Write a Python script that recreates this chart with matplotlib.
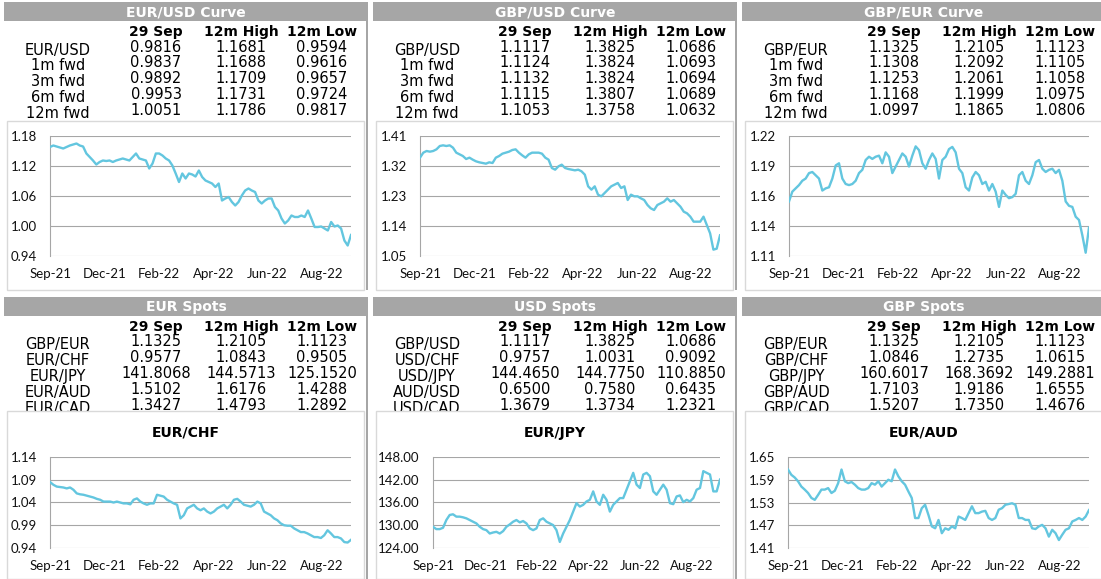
import numpy as np
import matplotlib
matplotlib.use('Agg')
import matplotlib.pyplot as plt
from matplotlib.patches import Rectangle

W, H = 1101, 579
LINE = '#63c6df'
HEAD = '#a6a6a6'
BOX = '#d9d9d9'
GRID = '#a6a6a6'

plt.rcParams['font.family'] = ['Lato', 'DejaVu Sans']

month_labels = ['Sep-21', 'Dec-21', 'Feb-22', 'Apr-22', 'Jun-22', 'Aug-22']
col_heads = ['29 Sep', '12m High', '12m Low']

# ---- tables ----
eurusd_title = 'EUR/USD Curve'
eurusd_rows = ['EUR/USD', '1m fwd', '3m fwd', '6m fwd', '12m fwd']
eurusd_cells = [['0.9816', '1.1681', '0.9594'],
                ['0.9837', '1.1688', '0.9616'],
                ['0.9892', '1.1709', '0.9657'],
                ['0.9953', '1.1731', '0.9724'],
                ['1.0051', '1.1786', '0.9817']]

gbpusd_title = 'GBP/USD Curve'
gbpusd_rows = ['GBP/USD', '1m fwd', '3m fwd', '6m fwd', '12m fwd']
gbpusd_cells = [['1.1117', '1.3825', '1.0686'],
                ['1.1124', '1.3824', '1.0693'],
                ['1.1132', '1.3824', '1.0694'],
                ['1.1115', '1.3807', '1.0689'],
                ['1.1053', '1.3758', '1.0632']]

gbpeur_title = 'GBP/EUR Curve'
gbpeur_rows = ['GBP/EUR', '1m fwd', '3m fwd', '6m fwd', '12m fwd']
gbpeur_cells = [['1.1325', '1.2105', '1.1123'],
                ['1.1308', '1.2092', '1.1105'],
                ['1.1253', '1.2061', '1.1058'],
                ['1.1168', '1.1999', '1.0975'],
                ['1.0997', '1.1865', '1.0806']]

eurspot_title = 'EUR Spots'
eurspot_rows = ['GBP/EUR', 'EUR/CHF', 'EUR/JPY', 'EUR/AUD', 'EUR/CAD']
eurspot_cells = [['1.1325', '1.2105', '1.1123'],
                 ['0.9577', '1.0843', '0.9505'],
                 ['141.8068', '144.5713', '125.1520'],
                 ['1.5102', '1.6176', '1.4288'],
                 ['1.3427', '1.4793', '1.2892']]

usdspot_title = 'USD Spots'
usdspot_rows = ['GBP/USD', 'USD/CHF', 'USD/JPY', 'AUD/USD', 'USD/CAD']
usdspot_cells = [['1.1117', '1.3825', '1.0686'],
                 ['0.9757', '1.0031', '0.9092'],
                 ['144.4650', '144.7750', '110.8850'],
                 ['0.6500', '0.7580', '0.6435'],
                 ['1.3679', '1.3734', '1.2321']]

gbpspot_title = 'GBP Spots'
gbpspot_rows = ['GBP/EUR', 'GBP/CHF', 'GBP/JPY', 'GBP/AUD', 'GBP/CAD']
gbpspot_cells = [['1.1325', '1.2105', '1.1123'],
                 ['1.0846', '1.2735', '1.0615'],
                 ['160.6017', '168.3692', '149.2881'],
                 ['1.7103', '1.9186', '1.6555'],
                 ['1.5207', '1.7350', '1.4676']]

# ---- chart series (Sep-21 .. end Sep-22) ----
eurusd = [1.158, 1.161, 1.159, 1.157, 1.155, 1.158, 1.161, 1.163, 1.165, 1.161,
          1.159, 1.145, 1.138, 1.131, 1.123, 1.128, 1.131, 1.130, 1.131, 1.128,
          1.131, 1.133, 1.135, 1.133, 1.131, 1.138, 1.145, 1.135, 1.133, 1.131,
          1.115, 1.125, 1.145, 1.145, 1.141, 1.135, 1.131, 1.121, 1.105, 1.088,
          1.105, 1.095, 1.105, 1.103, 1.099, 1.111, 1.098, 1.091, 1.088, 1.085,
          1.078, 1.085, 1.051, 1.055, 1.058, 1.048, 1.041, 1.048, 1.061, 1.071,
          1.075, 1.071, 1.068, 1.051, 1.045, 1.051, 1.055, 1.055, 1.038, 1.031,
          1.015, 1.005, 1.011, 1.021, 1.018, 1.018, 1.021, 1.018, 1.031, 1.015,
          0.998, 0.998, 0.999, 0.995, 0.991, 1.008, 0.999, 1.001, 0.995, 0.971,
          0.961, 0.982]

gbpusd = [1.345, 1.360, 1.365, 1.363, 1.365, 1.370, 1.380, 1.382, 1.380, 1.382,
          1.375, 1.360, 1.355, 1.350, 1.341, 1.345, 1.339, 1.334, 1.331, 1.329,
          1.327, 1.331, 1.329, 1.345, 1.350, 1.357, 1.360, 1.363, 1.368, 1.370,
          1.360, 1.352, 1.345, 1.355, 1.360, 1.360, 1.360, 1.357, 1.345, 1.339,
          1.314, 1.309, 1.319, 1.324, 1.314, 1.311, 1.309, 1.307, 1.309, 1.304,
          1.294, 1.259, 1.249, 1.259, 1.234, 1.229, 1.239, 1.249, 1.259, 1.264,
          1.269, 1.254, 1.259, 1.218, 1.234, 1.229, 1.229, 1.223, 1.218, 1.203,
          1.193, 1.188, 1.203, 1.208, 1.213, 1.223, 1.213, 1.218, 1.208, 1.198,
          1.183, 1.178, 1.168, 1.153, 1.153, 1.153, 1.168, 1.143, 1.118, 1.069,
          1.072, 1.112]

gbpeur = [1.160, 1.169, 1.172, 1.175, 1.179, 1.181, 1.186, 1.187, 1.184, 1.181,
          1.170, 1.172, 1.173, 1.181, 1.193, 1.195, 1.181, 1.176, 1.175, 1.176,
          1.179, 1.186, 1.189, 1.198, 1.201, 1.199, 1.201, 1.202, 1.195, 1.205,
          1.201, 1.186, 1.192, 1.198, 1.204, 1.201, 1.192, 1.202, 1.2105, 1.207,
          1.195, 1.190, 1.198, 1.204, 1.199, 1.181, 1.198, 1.201, 1.208, 1.210,
          1.205, 1.190, 1.186, 1.173, 1.170, 1.182, 1.187, 1.184, 1.176, 1.178,
          1.170, 1.176, 1.169, 1.155, 1.170, 1.166, 1.163, 1.164, 1.167, 1.184,
          1.187, 1.179, 1.176, 1.184, 1.196, 1.198, 1.190, 1.187, 1.189, 1.190,
          1.186, 1.189, 1.179, 1.160, 1.156, 1.155, 1.146, 1.143, 1.129, 1.113,
          1.136]

eurchf = [1.085, 1.079, 1.075, 1.074, 1.073, 1.071, 1.073, 1.068, 1.060, 1.058,
          1.057, 1.055, 1.053, 1.051, 1.048, 1.046, 1.042, 1.042, 1.042, 1.040,
          1.042, 1.040, 1.038, 1.038, 1.036, 1.046, 1.049, 1.042, 1.038, 1.035,
          1.038, 1.038, 1.057, 1.055, 1.053, 1.046, 1.042, 1.038, 1.035, 1.005,
          1.012, 1.027, 1.031, 1.035, 1.027, 1.023, 1.027, 1.020, 1.016, 1.020,
          1.027, 1.031, 1.035, 1.027, 1.035, 1.046, 1.048, 1.042, 1.035, 1.033,
          1.031, 1.035, 1.042, 1.038, 1.020, 1.016, 1.012, 1.005, 1.001, 0.994,
          0.990, 0.989, 0.989, 0.983, 0.979, 0.975, 0.975, 0.972, 0.968, 0.964,
          0.964, 0.962, 0.968, 0.979, 0.972, 0.964, 0.964, 0.961, 0.953, 0.952,
          0.958]

eurjpy = [129.60, 128.98, 128.98, 129.33, 131.38, 132.71, 132.89, 132.27, 132.27, 132.09,
          131.82, 131.38, 130.93, 130.49, 129.60, 128.98, 128.71, 127.82, 128.09, 128.27,
          127.82, 128.44, 129.60, 130.22, 130.93, 131.38, 130.76, 131.11, 130.49, 129.16,
          128.71, 129.16, 131.38, 131.82, 130.93, 130.49, 130.04, 128.71, 125.60, 127.82,
          129.60, 131.38, 133.60, 135.82, 134.93, 135.38, 136.27, 136.71, 138.93, 136.27,
          135.38, 138.04, 136.71, 133.60, 135.38, 136.27, 137.16, 137.16, 139.38, 141.60,
          143.82, 140.71, 139.82, 143.38, 143.82, 142.93, 138.93, 138.04, 139.38, 140.71,
          139.38, 135.82, 135.56, 137.60, 137.87, 136.09, 136.71, 136.27, 137.16, 139.38,
          139.82, 144.27, 143.82, 143.38, 138.93, 138.93, 142.04]

euraud = [1.617, 1.603, 1.596, 1.586, 1.572, 1.564, 1.555, 1.542, 1.537, 1.550,
          1.564, 1.564, 1.568, 1.555, 1.561, 1.581, 1.617, 1.586, 1.581, 1.584,
          1.577, 1.568, 1.564, 1.564, 1.568, 1.581, 1.577, 1.586, 1.572, 1.581,
          1.590, 1.586, 1.617, 1.599, 1.586, 1.577, 1.559, 1.542, 1.489, 1.489,
          1.515, 1.524, 1.497, 1.467, 1.462, 1.484, 1.449, 1.462, 1.458, 1.467,
          1.462, 1.493, 1.489, 1.484, 1.502, 1.520, 1.502, 1.502, 1.506, 1.508,
          1.489, 1.484, 1.489, 1.511, 1.515, 1.524, 1.526, 1.528, 1.524, 1.489,
          1.489, 1.484, 1.484, 1.462, 1.460, 1.467, 1.471, 1.462, 1.440, 1.458,
          1.449, 1.431, 1.445, 1.458, 1.462, 1.480, 1.484, 1.489, 1.484, 1.493,
          1.510]

# y axis ranges and tick labels per chart
eurusd_ylim, eurusd_yticks = (0.94, 1.18), ['0.94', '1.00', '1.06', '1.12', '1.18']
gbpusd_ylim, gbpusd_yticks = (1.05, 1.41), ['1.05', '1.14', '1.23', '1.32', '1.41']
gbpeur_ylim, gbpeur_yticks = (1.11, 1.22), ['1.11', '1.14', '1.16', '1.19', '1.22']
eurchf_ylim, eurchf_yticks = (0.94, 1.14), ['0.94', '0.99', '1.04', '1.09', '1.14']
eurjpy_ylim, eurjpy_yticks = (124.0, 148.0), ['124.00', '130.00', '136.00', '142.00', '148.00']
euraud_ylim, euraud_yticks = (1.41, 1.65), ['1.41', '1.47', '1.53', '1.59', '1.65']

fig = plt.figure(figsize=(W / 100, H / 100), dpi=100)
bg = fig.add_axes([0, 0, 1, 1])
bg.set_xlim(0, W)
bg.set_ylim(H, 0)
bg.axis('off')

COLX = [152, 237, 318]
TXT = dict(family='DejaVu Sans', color='black')


def px_axes(left, top, right, bottom):
    return fig.add_axes([left / W, 1 - bottom / H, (right - left) / W, (bottom - top) / H])


def draw_panel(x0, y0, box_top, box_bottom, title, rows, cells):
    bg.add_patch(Rectangle((x0, y0), 364, 19, color=HEAD, lw=0, zorder=1))
    bg.add_patch(Rectangle((x0 + 361.5, y0), 2.5, box_bottom - y0, color=HEAD, lw=0, zorder=1))
    bg.text(x0 + 182, y0 + 10.5, title, ha='center', va='center', fontsize=10,
            weight='bold', color='white', family='DejaVu Sans', zorder=2)
    for j, h in enumerate(col_heads):
        bg.text(x0 + COLX[j], y0 + 30, h, ha='center', va='center', fontsize=10,
                weight='bold', zorder=2, **TXT)
    for i, (lab, vals) in enumerate(zip(rows, cells)):
        y = y0 + 45 + i * 15.9
        bg.text(x0 + 54, y + 3, lab, ha='center', va='center', fontsize=10.5, zorder=2, **TXT)
        for j, v in enumerate(vals):
            bg.text(x0 + COLX[j], y, v, ha='center', va='center', fontsize=10.5, zorder=2, **TXT)
    bg.add_patch(Rectangle((x0 + 3, box_top), 357, box_bottom - box_top, facecolor='white',
                           edgecolor=BOX, lw=1, zorder=5))


def draw_chart(rect, vals, ylim, ylabels, title=None, title_xy=None):
    ax = px_axes(*rect)
    ax.set_facecolor('none')
    x = np.linspace(0, 365, len(vals))
    ax.plot(x, vals, color=LINE, lw=1.7, solid_joinstyle='round', zorder=3)
    ax.set_xlim(0, 365)
    ax.set_ylim(*ylim)
    ax.set_yticks(np.linspace(ylim[0], ylim[1], 5))
    ax.set_yticklabels(ylabels)
    ax.set_xticks(1 + 65.7 * np.arange(len(month_labels)))
    ax.set_xticklabels(month_labels)
    ax.grid(axis='y', color=GRID, lw=0.8)
    ax.set_axisbelow(True)
    for s in ['top', 'right', 'bottom']:
        ax.spines[s].set_visible(False)
    ax.spines['left'].set_color(GRID)
    ax.spines['left'].set_linewidth(0.8)
    ax.tick_params(axis='y', length=0, pad=9.5, labelsize=9.5, colors='#111111')
    ax.tick_params(axis='x', length=0, pad=8.5, labelsize=9.5, colors='#111111')
    if title:
        bg.text(title_xy[0], title_xy[1], title, ha='center', va='center', fontsize=10,
                weight='bold', zorder=6, **TXT)
    return ax


top_panels = [(eurusd_title, eurusd_rows, eurusd_cells, eurusd, eurusd_ylim, eurusd_yticks, 46),
              (gbpusd_title, gbpusd_rows, gbpusd_cells, gbpusd, gbpusd_ylim, gbpusd_yticks, 47),
              (gbpeur_title, gbpeur_rows, gbpeur_cells, gbpeur, gbpeur_ylim, gbpeur_yticks, 47)]
bottom_panels = [(eurspot_title, eurspot_rows, eurspot_cells, 'EUR/CHF', eurchf, eurchf_ylim, eurchf_yticks, 46),
                 (usdspot_title, usdspot_rows, usdspot_cells, 'EUR/JPY', eurjpy, eurjpy_ylim, eurjpy_yticks, 60),
                 (gbpspot_title, gbpspot_rows, gbpspot_cells, 'EUR/AUD', euraud, euraud_ylim, euraud_yticks, 46)]

for c, (title, rows, cells, vals, ylim, ylabels, left) in enumerate(top_panels):
    x0 = 4 + 369 * c
    draw_panel(x0, 2, 121, 290, title, rows, cells)
    draw_chart((x0 + left, 136, x0 + 347, 256), vals, ylim, ylabels)

for c, (title, rows, cells, ctitle, vals, ylim, ylabels, left) in enumerate(bottom_panels):
    x0 = 4 + 369 * c
    draw_panel(x0, 297, 411, 579, title, rows, cells)
    draw_chart((x0 + left, 457, x0 + 347, 548), vals, ylim, ylabels,
               title=ctitle, title_xy=(x0 + 182, 433))

fig.savefig('out.png', dpi=100)
